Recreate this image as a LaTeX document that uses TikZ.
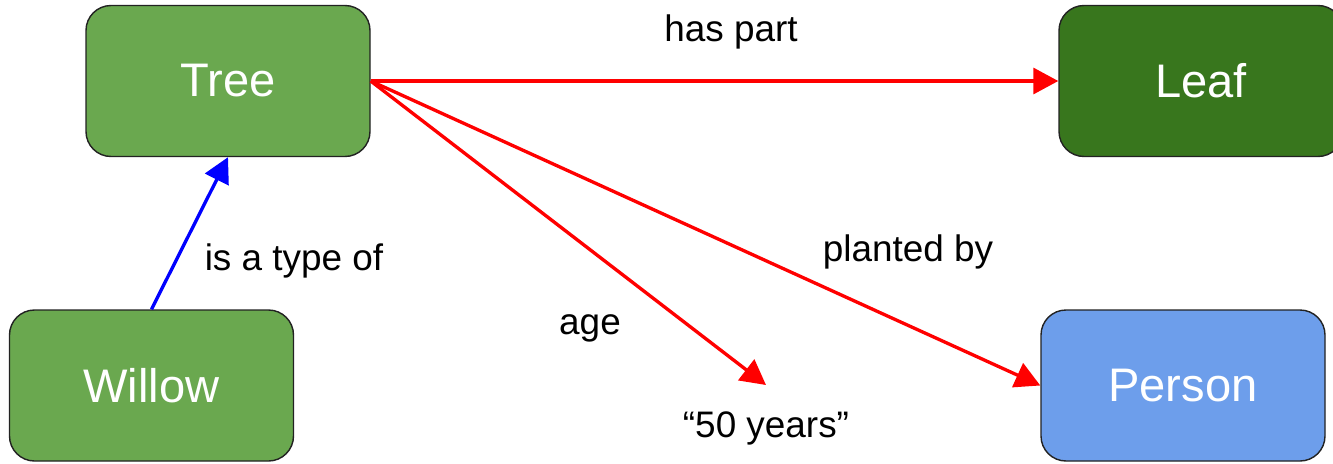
\documentclass[tikz,border=0pt]{standalone}
\usepackage{fontspec}
\setmainfont{Liberation Sans}
\usepackage{xcolor}
\usepackage{tikz}
\usetikzlibrary{arrows.meta,positioning}
\definecolor{treegreen}{HTML}{6AA84F}
\definecolor{leafgreen}{HTML}{38761D}
\definecolor{personblue}{HTML}{6D9EEB}
\definecolor{boxline}{HTML}{222222}
\tikzset{
    conceptbox/.style={
        rectangle, rounded corners=0.5cm, draw=boxline, line width=0.8pt,
        minimum width=5.68cm, minimum height=3.02cm, inner sep=0pt,
        text=white, font=\fontsize{26.8}{30}\selectfont
    },
    relarrow/.style={-{Triangle[length=0.5cm, width=0.52cm]}, line width=1.9pt, draw=red},
    isaarrow/.style={-{Triangle[length=0.5cm, width=0.52cm]}, line width=1.9pt, draw=blue},
    edgelbl/.style={font=\fontsize{21}{25}\selectfont, inner sep=0pt}
}

\begin{document}
\begin{tikzpicture}
    \useasboundingbox (0,0) rectangle (26.66,-9.26);
    % concepts
    \node[conceptbox, fill=treegreen] (tree) at (4.56,-1.62) {Tree};
    \node[conceptbox, fill=leafgreen] (leaf) at (24.02,-1.62) {Leaf};
    \node[conceptbox, fill=treegreen] (willow) at (3.03,-7.71) {Willow};
    \node[conceptbox, fill=personblue] (person) at (23.66,-7.71) {Person};
    % literal value
    \node[edgelbl, anchor=north, inner ysep=0.52cm] (years) at (15.32,-7.7) {“50 years”};
    % relations
    \draw[relarrow] (tree.east) -- (leaf.west);
    \draw[relarrow] (tree.east) -- (years.north);
    \draw[relarrow] (tree.east) -- (person.west);
    \draw[isaarrow] (willow.north) -- (tree.south);
    \node[edgelbl] (haspart) at (14.62,-0.64) {has part};
    \node[edgelbl] (age) at (11.8,-6.56) {age};
    \node[edgelbl] (planted) at (18.16,-5.04) {planted by};
    \node[edgelbl] (typeof) at (5.88,-5.22) {is a type of};
\end{tikzpicture}
\end{document}
